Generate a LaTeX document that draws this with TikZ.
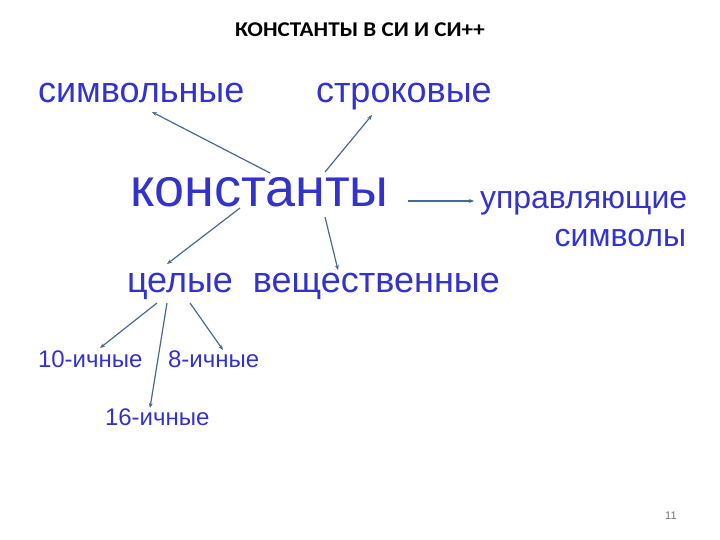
\documentclass[tikz,border=0pt]{standalone}
\usepackage{fontspec}
\setmainfont{Liberation Sans}
\newfontfamily\titlefont{Carlito}
\usetikzlibrary{arrows.meta}
\definecolor{txtblue}{HTML}{3333CC}
\definecolor{arrcol}{HTML}{4A6A8C}
\tikzset{
  lbl/.style={inner sep=0pt, outer sep=0pt, text=txtblue, anchor=base west},
  arr/.style={draw=arrcol, line width=1.2pt, -{Stealth[length=5pt,width=4pt]}}
}
\begin{document}
\begin{tikzpicture}[x=1pt,y=-1pt]
\useasboundingbox (0,0) rectangle (720,540);
\node[inner sep=0pt, anchor=base] (title) at (360,37) {\scalebox{1.1}[1]{\titlefont\fontsize{21}{24}\selectfont\bfseries КОНСТАНТЫ В СИ И СИ++}};
\node[lbl] (simv) at (38,103) {\fontsize{36}{40}\selectfont символьные};
\node[lbl] (str) at (316,103) {\fontsize{36}{40}\selectfont строковые};
\node[lbl] (konst) at (130,207) {\fontsize{54}{58}\selectfont константы};
\node[lbl] (upr) at (480,208) {\fontsize{32}{36}\selectfont управляющие};
\node[lbl, anchor=base east] (sym) at (686,247) {\fontsize{32}{36}\selectfont символы};
\node[lbl] (cel) at (127,292) {\fontsize{36}{40}\selectfont целые\ \ вещественные};
\node[lbl] (d10) at (38,367) {\fontsize{24}{28}\selectfont 10-ичные};
\node[lbl] (d8) at (168,367) {\fontsize{24}{28}\selectfont 8-ичные};
\node[lbl] (d16) at (105,425) {\fontsize{24}{28}\selectfont 16-ичные};
\node[inner sep=0pt, anchor=base west, text=black!55] (pg) at (665,519) {\fontsize{11}{13}\selectfont 11};
% connector end points
\coordinate (a1s) at (270,173); \coordinate (a1e) at (152,112);
\coordinate (a2s) at (325,172); \coordinate (a2e) at (372,115);
\coordinate (a3s) at (408,201); \coordinate (a3e) at (474,201);
\coordinate (a4s) at (240,208); \coordinate (a4e) at (167,264);
\coordinate (a5s) at (325,217); \coordinate (a5e) at (338,270);
\coordinate (a6s) at (157,303); \coordinate (a6e) at (100,348);
\coordinate (a7s) at (167,303); \coordinate (a7e) at (150,408);
\coordinate (a8s) at (190,303); \coordinate (a8e) at (223,350);
\draw[arr] (a1s) -- (a1e);
\draw[arr] (a2s) -- (a2e);
\draw[arr] (a3s) -- (a3e);
\draw[arr] (a4s) -- (a4e);
\draw[arr] (a5s) -- (a5e);
\draw[arr] (a6s) -- (a6e);
\draw[arr] (a7s) -- (a7e);
\draw[arr] (a8s) -- (a8e);
\end{tikzpicture}
\end{document}
